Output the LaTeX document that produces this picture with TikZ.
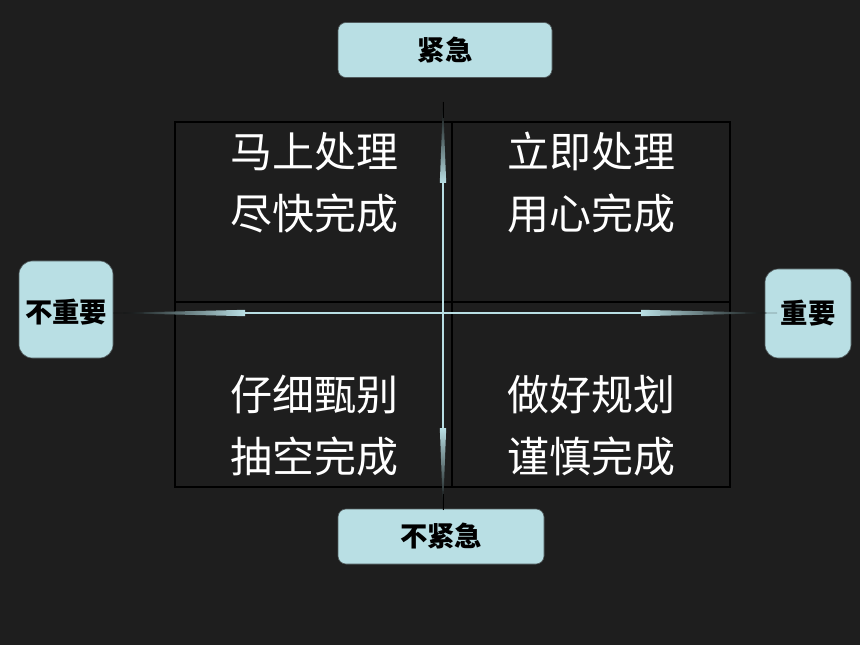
\documentclass[tikz,border=0pt]{standalone}
\usepackage{fontspec}
\newfontfamily\cjk{Noto Sans CJK SC}
\definecolor{bg}{RGB}{30,30,30}
\definecolor{cy}{RGB}{185,223,228}
\definecolor{bx}{RGB}{80,90,92}
\tikzset{
  lab/.style={draw=bx, line width=0.5pt, fill=cy, inner sep=0pt, text=black, font=\cjk\bfseries\fontsize{20.5}{24}\selectfont},
  qtext/.style={text=white, align=center, inner sep=0pt, font=\cjk\fontsize{31.5}{46.5}\selectfont},
  quad/.style={draw=black, line width=1.5pt},
  shaft/.style={draw=cy, line width=2.2pt},
}
\begin{document}
\begin{tikzpicture}[x=0.75pt,y=-0.75pt]
\fill[bg] (0,0) rectangle (860,645);
\useasboundingbox (0,0) rectangle (860,645);
% quadrants
\draw[quad] (175,122) rectangle (452,302);
\draw[quad] (452,122) rectangle (730,302);
\draw[quad] (175,302) rectangle (452,487);
\draw[quad] (452,302) rectangle (730,487);
% quadrant texts
\node[qtext] (tl) at (314,183) {马上处理\\尽快完成};
\node[qtext] (tr) at (591,183) {立即处理\\用心完成};
\node[qtext] (bl) at (314,426) {仔细甄别\\抽空完成};
\node[qtext] (br) at (591,426) {做好规划\\谨慎完成};
% label boxes
\node[lab, rounded corners=6pt, minimum width=160.5pt, minimum height=41.25pt] (up) at (445,50) {紧急};
\node[lab, rounded corners=6pt, minimum width=154.5pt, minimum height=41.25pt] (down) at (441,536.5) {不紧急};
\node[lab, rounded corners=10pt, minimum width=70.5pt, minimum height=72.75pt] (left) at (66,309.5) {};
\node[font=\cjk\bfseries\fontsize{20.5}{24}\selectfont, inner sep=0pt] (lefttxt) at (66,312) {不重要};
\node[lab, rounded corners=10pt, minimum width=64.5pt, minimum height=66.75pt] (right) at (808,313.5) {};
\node[font=\cjk\bfseries\fontsize{20.5}{24}\selectfont, inner sep=0pt] (righttxt) at (808,313) {重要};
% axis coordinates
\coordinate (c) at (443,313);
\coordinate (tb) at (443,183);
\coordinate (tt) at (443,102);
\coordinate (bb) at (443,428);
\coordinate (bt) at (443,510);
\coordinate (lb) at (245,313);
\coordinate (lt) at (113,313);
\coordinate (rb) at (641,313);
\coordinate (rt) at (777,313);
% shafts
\draw[shaft] (c) -- (tb);
\draw[shaft] (c) -- (bb);
\draw[shaft] (c) -- (lb);
\draw[shaft] (c) -- (rb);
% tapered tips
\shade[top color=black, bottom color=cy] ([xshift=-2.4pt]tb) -- ([xshift=2.4pt]tb) -- (tt) -- cycle;
\shade[top color=cy, bottom color=black] ([xshift=-2.4pt]bb) -- ([xshift=2.4pt]bb) -- (bt) -- cycle;
\shade[left color=black, right color=cy] ([yshift=-2.4pt]lb) -- ([yshift=2.4pt]lb) -- (lt) -- cycle;
\shade[left color=cy, right color=black] ([yshift=-2.4pt]rb) -- ([yshift=2.4pt]rb) -- (rt) -- cycle;
\draw[black, line width=0.4pt] (tt) -- ([yshift=-12pt]tt);
\draw[black, line width=0.4pt] (bt) -- ([yshift=12pt]bt);
\end{tikzpicture}
\end{document}
